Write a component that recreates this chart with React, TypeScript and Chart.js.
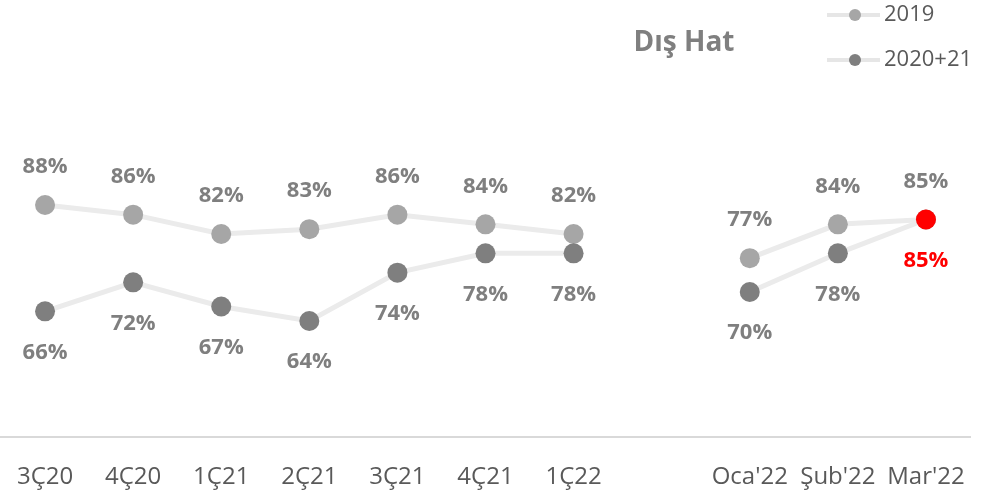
import React, { useEffect, useRef } from "react";
import { Chart, registerables } from "chart.js";

Chart.register(...registerables);

const categories = ["3Ç20", "4Ç20", "1Ç21", "2Ç21", "3Ç21", "4Ç21", "1Ç22", "", "Oca'22", "Şub'22", "Mar'22"];
const series2019 = [88, 86, 82, 83, 86, 84, 82, null, 77, 84, 85];
const series2020 = [66, 72, 67, 64, 74, 78, 78, null, 70, 78, 85];
const seriesNames = ["2019", "2020+21"];
const chartTitle = "Dış Hat";

const COLOR_2019 = "#a6a6a6";
const COLOR_2020 = "#7f7f7f";
const LINE_COLOR = "#ebebeb";
const HIGHLIGHT = "#ff0000";

export default function App() {
  const ref = useRef<HTMLCanvasElement | null>(null);

  useEffect(() => {
    document.body.style.margin = "0";
    const canvas = ref.current;
    if (!canvas) return;

    const labelPlugin = {
      id: "valueLabels",
      afterDatasetsDraw(chart: any) {
        const ctx = chart.ctx;
        ctx.save();
        ctx.font = "bold 22px 'Open Sans'";
        ctx.textAlign = "center";
        ctx.textBaseline = "middle";
        chart.data.datasets.forEach((ds: any, di: number) => {
          const meta = chart.getDatasetMeta(di);
          meta.data.forEach((pt: any, i: number) => {
            const v = ds.data[i];
            if (v === null || v === undefined) return;
            const above = ds.label === "2019";
            const isLast = !above && i === ds.data.length - 1;
            ctx.fillStyle = isLast ? HIGHLIGHT : "#7f7f7f";
            ctx.fillText(v + "%", pt.x, above ? pt.y - 38 : pt.y + 41);
          });
        });
        ctx.restore();
      },
    };

    const decoPlugin = {
      id: "deco",
      afterDraw(chart: any) {
        const ctx = chart.ctx;
        ctx.save();
        ctx.font = "bold 28px 'Open Sans'";
        ctx.fillStyle = "#7f7f7f";
        ctx.textAlign = "center";
        ctx.textBaseline = "middle";
        ctx.fillText(chartTitle, 684, 43);
        const items = [
          { name: seriesNames[0], color: COLOR_2019, y: 15 },
          { name: seriesNames[1], color: COLOR_2020, y: 60 },
        ];
        items.forEach((it) => {
          ctx.strokeStyle = "#e6e6e6";
          ctx.lineWidth = 4;
          ctx.beginPath();
          ctx.moveTo(827, it.y);
          ctx.lineTo(880, it.y);
          ctx.stroke();
          ctx.fillStyle = it.color;
          ctx.beginPath();
          ctx.arc(855, it.y, 6, 0, Math.PI * 2);
          ctx.fill();
          ctx.fillStyle = "#595959";
          ctx.font = "22px 'Open Sans'";
          ctx.textAlign = "left";
          ctx.textBaseline = "middle";
          ctx.fillText(it.name, 884, it.y);
        });
        ctx.restore();
      },
    };

    const chart = new Chart(canvas, {
      type: "line",
      data: {
        labels: categories,
        datasets: [
          {
            label: seriesNames[1],
            data: series2020,
            borderColor: LINE_COLOR,
            borderWidth: 5,
            pointBackgroundColor: series2020.map((_, i) => (i === series2020.length - 1 ? HIGHLIGHT : COLOR_2020)),
            pointBorderWidth: 0,
            pointRadius: 10,
            spanGaps: false,
            order: 0,
          },
          {
            label: seriesNames[0],
            data: series2019,
            borderColor: LINE_COLOR,
            borderWidth: 5,
            pointBackgroundColor: COLOR_2019,
            pointBorderWidth: 0,
            pointRadius: 10,
            spanGaps: false,
            order: 1,
          },
        ],
      },
      options: {
        responsive: false,
        animation: false,
        layout: { autoPadding: false, padding: { left: 1, right: 21, top: 2, bottom: 0 } },
        plugins: {
          legend: { display: false },
          tooltip: { enabled: false },
          title: { display: false },
        },
        scales: {
          x: {
            type: "category",
            offset: true,
            grid: {
              display: true,
              drawOnChartArea: false,
              drawTicks: true,
              tickLength: 26,
              color: "rgba(0,0,0,0)",
            },
            border: { display: true, color: "#d9d9d9", width: 2 },
            ticks: {
              autoSkip: false,
              maxRotation: 0,
              padding: 0,
              color: "#595959",
              font: { family: "'Open Sans'", size: 24 },
            },
            afterFit(scale: any) {
              scale.height = 55;
              scale.paddingLeft = 0;
              scale.paddingRight = 0;
            },
          },
          y: {
            display: false,
            min: 40,
            max: 130,
          },
        },
      },
      plugins: [labelPlugin, decoPlugin],
    });

    return () => chart.destroy();
  }, []);

  return (
    <div style={{ width: 991, height: 492 }}>
      <canvas ref={ref} width={991} height={492} />
    </div>
  );
}
